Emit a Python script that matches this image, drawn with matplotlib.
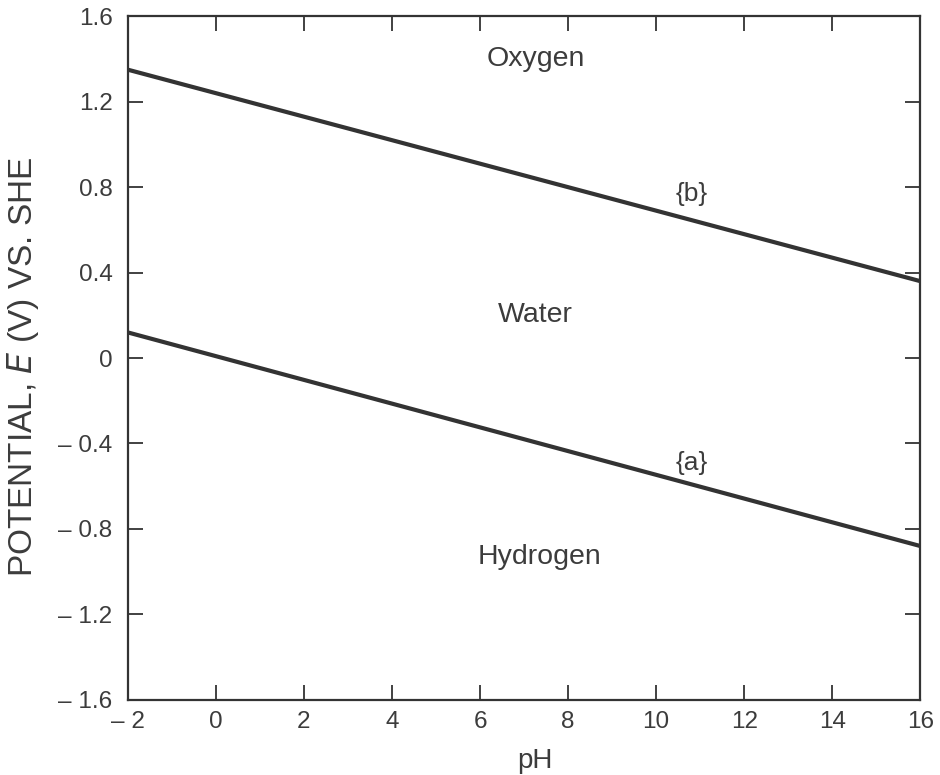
import matplotlib
matplotlib.use('Agg')
import matplotlib.pyplot as plt

# boundary lines of water stability
ph_ends = [-2, 16]
line_a = [0.12, -0.88]   # hydrogen line {a}
line_b = [1.35, 0.36]    # oxygen line {b}

xticks = [-2, 0, 2, 4, 6, 8, 10, 12, 14, 16]
yticks = [-1.6, -1.2, -0.8, -0.4, 0, 0.4, 0.8, 1.2, 1.6]
ytick_labels = ['\u2013 1.6', '\u2013 1.2', '\u2013 0.8', '\u2013 0.4', '0', '0.4', '0.8', '1.2', '1.6']
xtick_labels = ['\u2013 2', '0', '2', '4', '6', '8', '10', '12', '14', '16']

regions = ['Oxygen', 'Water', 'Hydrogen']
region_pos = [(7.27, 1.40), (7.25, 0.20), (7.36, -0.93)]
line_tags = ['{b}', '{a}']
tag_pos = [(10.8, 0.77), (10.8, -0.49)]

plt.rcParams['font.family'] = ['Liberation Sans', 'DejaVu Sans']
txt = '#3c3c3c'
ink = '#333333'

fig = plt.figure(figsize=(9.4, 7.75), dpi=100)
ax = fig.add_axes([0.136, 0.097, 0.843, 0.882])

ax.plot(ph_ends, line_a, color=ink, lw=3.0, solid_capstyle='butt')
ax.plot(ph_ends, line_b, color=ink, lw=3.0, solid_capstyle='butt')

for name, (x, y) in zip(regions, region_pos):
    ax.text(x, y, name, fontsize=20.5, color=txt, ha='center', va='center')
for tag, (x, y) in zip(line_tags, tag_pos):
    ax.text(x, y, tag, fontsize=19, color=txt, ha='center', va='center')

ax.set_xlim(-2, 16)
ax.set_ylim(-1.6, 1.6)
ax.set_xticks(xticks)
ax.set_xticklabels(xtick_labels)
ax.set_yticks(yticks)
ax.set_yticklabels(ytick_labels)
ax.tick_params(direction='in', length=11, width=1.3, color=ink, labelsize=17.5,
               labelcolor=txt, top=True, right=True)
ax.tick_params(axis='x', pad=8)
ax.tick_params(axis='y', pad=11)
for s in ax.spines.values():
    s.set_linewidth(1.6)
    s.set_color(ink)

ax.set_xlabel('pH', fontsize=20, color=txt)
ax.set_ylabel('POTENTIAL, $\\it{E}$ (V) VS. SHE', fontsize=24, color=txt)
ax.xaxis.set_label_coords(0.514, -0.071)
ax.yaxis.set_label_coords(-0.109, 0.487)

fig.savefig('out.png', dpi=100)
